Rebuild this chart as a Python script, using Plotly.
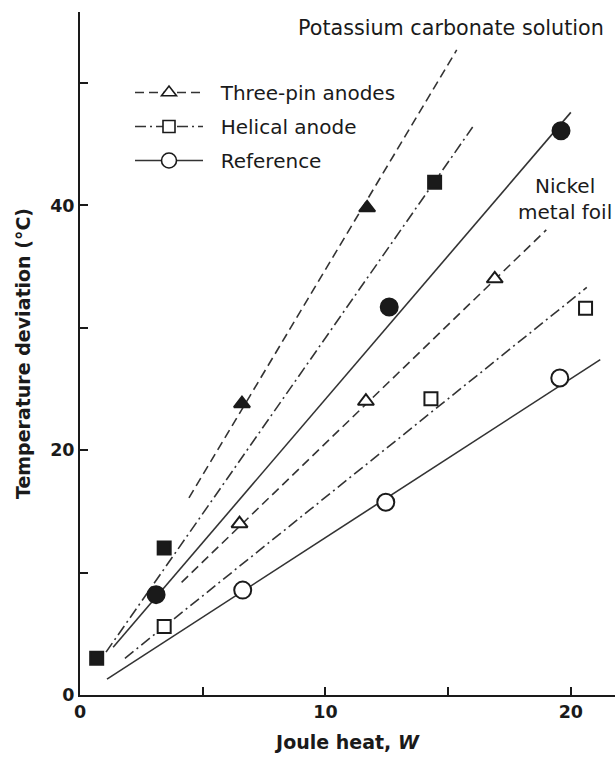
import plotly.graph_objects as go

# ---- data ----
# Reference (open circles, solid)
ref_x = [6.63, 12.46, 19.55]
ref_y = [8.57, 15.75, 25.9]
ref_line_x = [1.1, 21.2]
ref_line_y = [1.3, 27.4]

# Helical anode (open squares, dash-dot)
hel_x = [3.43, 14.3, 20.6]
hel_y = [5.6, 24.2, 31.6]
hel_line_x = [1.83, 20.65]
hel_line_y = [3.0, 33.3]

# Three-pin anodes (open triangles, dashed)
tri_x = [6.5, 11.65, 16.9]
tri_y = [14.0, 24.0, 34.0]
tri_line_x = [4.14, 19.0]
tri_line_y = [9.2, 38.0]

# Nickel metal foil, reference (filled circles, solid)
ni_x = [3.1, 12.6, 19.6]
ni_y = [8.2, 31.7, 46.1]
ni_line_x = [1.35, 20.0]
ni_line_y = [3.9, 47.6]

# Potassium carbonate solution, three-pin (filled triangles, dashed)
k_tri_x = [6.6, 11.7]
k_tri_y = [23.8, 39.8]
k_tri_line_x = [4.44, 15.35]
k_tri_line_y = [16.1, 52.7]

# Potassium carbonate solution, helical (filled squares, dash-dot)
k_hel_x = [0.68, 3.43, 14.45]
k_hel_y = [3.0, 12.0, 41.9]
k_hel_line_x = [1.06, 16.0]
k_hel_line_y = [3.5, 46.4]

x_ticks = [0, 10, 20]
y_ticks = [0, 20, 40]

INK = "#1a1a1a"
LINE = "#333333"
FONT = "DejaVu Sans"
DASH = "9px,5px"
DASHDOT = "11px,4px,2px,4px"

fig = go.Figure()

def add_line(x, y, dash):
    fig.add_trace(go.Scatter(x=x, y=y, mode="lines", showlegend=False, hoverinfo="skip",
                             line=dict(color=LINE, width=1.6, dash=dash)))

def add_pts(x, y, symbol, size, filled):
    fig.add_trace(go.Scatter(
        x=x, y=y, mode="markers", showlegend=False,
        marker=dict(symbol=symbol, size=size,
                    color=INK if filled else "white",
                    line=dict(color=INK, width=2))))

add_line(ref_line_x, ref_line_y, "solid")
add_line(hel_line_x, hel_line_y, DASHDOT)
add_line(tri_line_x, tri_line_y, DASH)
add_line(ni_line_x, ni_line_y, "solid")
add_line(k_tri_line_x, k_tri_line_y, DASH)
add_line(k_hel_line_x, k_hel_line_y, DASHDOT)

add_pts(ref_x, ref_y, "circle", 17, False)
add_pts(hel_x, hel_y, "square", 13, False)
add_pts(tri_x, tri_y, "triangle-up", 14, False)
add_pts(ni_x, ni_y, "circle", 17, True)
add_pts(k_tri_x, k_tri_y, "triangle-up", 14, True)
add_pts(k_hel_x, k_hel_y, "square", 13, True)

# legend entries
NB = "\u00a0\u00a0"
for name, sym, size, dash in [("Three-pin anodes", "triangle-up", 13, DASH),
                              ("Helical anode", "square", 12, DASHDOT),
                              ("Reference", "circle", 15, "solid")]:
    fig.add_trace(go.Scatter(
        x=[None], y=[None], mode="lines+markers", name=NB + name, legendgroup=name,
        line=dict(color=LINE, width=1.6, dash=dash),
        marker=dict(symbol=sym, size=size, color="white", line=dict(color=INK, width=1.6))))

FW, FH = 615, 757
L, T, W, H = 80, 12, 535, 683   # plot area in window pixels

def px(xs):
    return (xs - L) / W

def py(ys):
    return (T + H - ys) / H

fig.add_annotation(text="Potassium carbonate solution", xref="paper", yref="paper",
                   x=px(451), y=py(28), xanchor="center", yanchor="middle", showarrow=False,
                   font=dict(family=FONT, size=20.7, color=INK))
fig.add_annotation(text="Nickel<br>metal foil", xref="paper", yref="paper",
                   x=px(565), y=py(199), xanchor="center", yanchor="middle", showarrow=False,
                   align="center", font=dict(family=FONT, size=20, color=INK))

fig.update_layout(
    width=FW, height=FH,
    margin=dict(l=L, r=FW - L - W, t=T, b=FH - T - H, autoexpand=False),
    paper_bgcolor="white", plot_bgcolor="white",
    font=dict(family=FONT, size=18, color=INK),
    showlegend=True,
    legend=dict(x=px(130), y=py(73), xanchor="left", yanchor="top",
                bgcolor="rgba(0,0,0,0)", font=dict(size=20, family=FONT, color=INK),
                itemwidth=68, tracegroupgap=5, traceorder="grouped"),
    xaxis=dict(range=[0, 21.8], showgrid=False, zeroline=False, showline=True, automargin=False,
               linecolor=INK, linewidth=2, ticks="inside", ticklen=8, tickwidth=1.5,
               tickcolor=INK, tickvals=x_ticks, ticktext=[str(v) for v in x_ticks],
               tickfont=dict(family=FONT, size=17.5, weight="bold"),
               minor=dict(tickvals=[5, 15], ticks="inside", ticklen=8, tickwidth=1.5, tickcolor=INK),
               title=dict(text="Joule heat, <i>W</i>", font=dict(family=FONT, size=19, weight="bold"),
                          standoff=15)),
    yaxis=dict(range=[0, 55.8], showgrid=False, zeroline=False, showline=True, automargin=False,
               linecolor=INK, linewidth=2, ticks="inside", ticklen=8, tickwidth=1.5,
               tickcolor=INK, tickvals=y_ticks, ticktext=[str(v) for v in y_ticks],
               tickfont=dict(family=FONT, size=17.5, weight="bold"),
               minor=dict(tickvals=[10, 30, 50], ticks="inside", ticklen=8, tickwidth=1.5, tickcolor=INK),
               title=dict(text="Temperature deviation (°C)",
                          font=dict(family=FONT, size=19, weight="bold"), standoff=14)),
)

fig.write_html("out.html", config={"displayModeBar": False},
               post_script="document.body.style.margin='0';document.body.style.overflow='hidden';")
